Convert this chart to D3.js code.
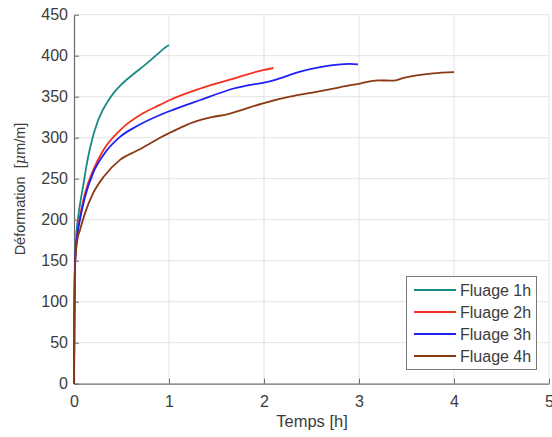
<!DOCTYPE html>
<html>
<head>
<meta charset="utf-8">
<script src="https://cdn.jsdelivr.net/npm/d3@7"></script>
<style>
  html, body { margin: 0; padding: 0; background: #fff; }
  svg { display: block; }
  text { font-family: "Liberation Sans", Arial, Helvetica, sans-serif; fill: #3c3c3c; }
</style>
</head>
<body>
<svg id="chart" width="552" height="437"></svg>
<script>
// ---- Data ----
const seriesNames = ["Fluage 1h", "Fluage 2h", "Fluage 3h", "Fluage 4h"];
const seriesColors = ["#178a84", "#f3301f", "#2020f5", "#8a3a12"];

const t1h = [0, 0.002, 0.004, 0.007, 0.012, 0.021, 0.045, 0.07, 0.098, 0.13, 0.17, 0.25, 0.3, 0.36, 0.42, 0.5, 0.62, 0.76, 0.87, 0.96, 1.0];
const v1h = [0, 40, 80, 120, 150, 175, 204, 224, 242, 265, 288, 320, 333, 345, 355, 365, 377, 390, 401, 410, 413];

const t2h = [0, 0.002, 0.004, 0.007, 0.012, 0.028, 0.063, 0.116, 0.2, 0.31, 0.484, 0.73, 0.905, 1.01, 1.33, 1.68, 1.99, 2.1];
const v2h = [0, 40, 80, 120, 150, 175, 204, 232, 260, 285, 309, 330, 340, 346, 360, 372, 382.5, 385];

const t3h = [0, 0.002, 0.004, 0.007, 0.012, 0.028, 0.063, 0.116, 0.2, 0.31, 0.484, 0.66, 0.905, 1.01, 1.33, 1.68, 2.1, 2.38, 2.62, 2.9, 2.99];
const v3h = [0, 40, 80, 120, 150, 175, 200, 228, 256.6, 279, 301, 314, 327.7, 332.6, 346, 360, 370, 380.5, 386.6, 390, 389.5];

const t4h = [0, 0.002, 0.004, 0.008, 0.014, 0.035, 0.063, 0.116, 0.2, 0.31, 0.484, 0.66, 0.8, 0.905, 1.01, 1.26, 1.45, 1.61, 1.99, 2.27, 2.55, 2.69, 2.91, 3.01, 3.2, 3.36, 3.47, 3.78, 4.0];
const v4h = [0, 40, 80, 120, 150, 175, 187.5, 208, 232, 252, 273, 284, 293, 300, 306, 319, 325, 328.5, 342, 350, 356, 359, 364, 366, 370, 369.5, 373, 378.5, 380];

const xTicks = [0, 1, 2, 3, 4, 5];
const yTicks = [0, 50, 100, 150, 200, 250, 300, 350, 400, 450];
const xLabel = "Temps [h]";

const seriesT = [t1h, t2h, t3h, t4h];
const seriesV = [v1h, v2h, v3h, v4h];

// ---- Layout ----
const svg = d3.select("#chart");
const pLeft = 74, pRight = 549, pTop = 14.7, pBottom = 383.7;

const x = d3.scaleLinear().domain([0, 5]).range([pLeft, pRight]);
const y = d3.scaleLinear().domain([0, 450]).range([pBottom, pTop]);

// grid
const grid = svg.append("g").attr("stroke", "#e3e3e3").attr("stroke-width", 1);
grid.selectAll(".gx").data(xTicks.filter(d => d > 0)).enter().append("line")
  .attr("x1", d => x(d)).attr("x2", d => x(d)).attr("y1", pTop).attr("y2", pBottom);
grid.selectAll(".gy").data(yTicks.filter(d => d > 0)).enter().append("line")
  .attr("x1", pLeft).attr("x2", pRight).attr("y1", d => y(d)).attr("y2", d => y(d));

// axes
const xAxis = svg.append("g").attr("transform", `translate(0,${pBottom})`)
  .call(d3.axisBottom(x).tickValues(xTicks).tickFormat(d3.format("d")).tickSizeInner(-5).tickSizeOuter(0).tickPadding(12));
const yAxis = svg.append("g").attr("transform", `translate(${pLeft},0)`)
  .call(d3.axisLeft(y).tickValues(yTicks).tickFormat(d3.format("d")).tickSizeInner(-5).tickSizeOuter(0).tickPadding(6));
[xAxis, yAxis].forEach(a => {
  a.select(".domain").attr("stroke", "#6a6a6a").attr("stroke-width", 1.2);
  a.selectAll(".tick line").attr("stroke", "#6a6a6a");
  a.selectAll(".tick text").attr("font-size", 16).attr("fill", "#3c3c3c")
    .style("font-family", "'Liberation Sans', Arial, sans-serif");
});

// lines
const line = d3.line().curve(d3.curveMonotoneX).x(d => x(d[0])).y(d => y(d[1]));
seriesNames.forEach((name, i) => {
  const pts = seriesT[i].map((t, j) => [t, seriesV[i][j]]);
  svg.append("path").datum(pts)
    .attr("fill", "none")
    .attr("stroke", seriesColors[i])
    .attr("stroke-width", 1.8)
    .attr("stroke-linejoin", "round")
    .attr("d", line);
});

// axis labels
svg.append("text").attr("x", 312).attr("y", 427).attr("text-anchor", "middle")
  .attr("font-size", 16.5).text(xLabel);

const yl = svg.append("text").attr("transform", `translate(25,189) rotate(-90)`)
  .attr("text-anchor", "middle").attr("font-size", 14.5);
yl.append("tspan").text("Déformation\u00a0\u00a0[");
yl.append("tspan").attr("font-style", "italic").attr("font-family", "'DejaVu Serif', 'Liberation Serif', serif").text("μ");
yl.append("tspan").text("m/m]");

// legend
const lg = svg.append("g");
lg.append("rect").attr("x", 406.5).attr("y", 276.5).attr("width", 130).attr("height", 93)
  .attr("fill", "#fff").attr("stroke", "#7a7a7a").attr("stroke-width", 1);
seriesNames.forEach((name, i) => {
  const ry = 290 + i * 22;
  lg.append("line").attr("x1", 414).attr("x2", 456).attr("y1", ry).attr("y2", ry)
    .attr("stroke", seriesColors[i]).attr("stroke-width", 1.8);
  lg.append("text").attr("x", 460).attr("y", ry + 5.8).attr("font-size", 16).text(name);
});
</script>
</body>
</html>
